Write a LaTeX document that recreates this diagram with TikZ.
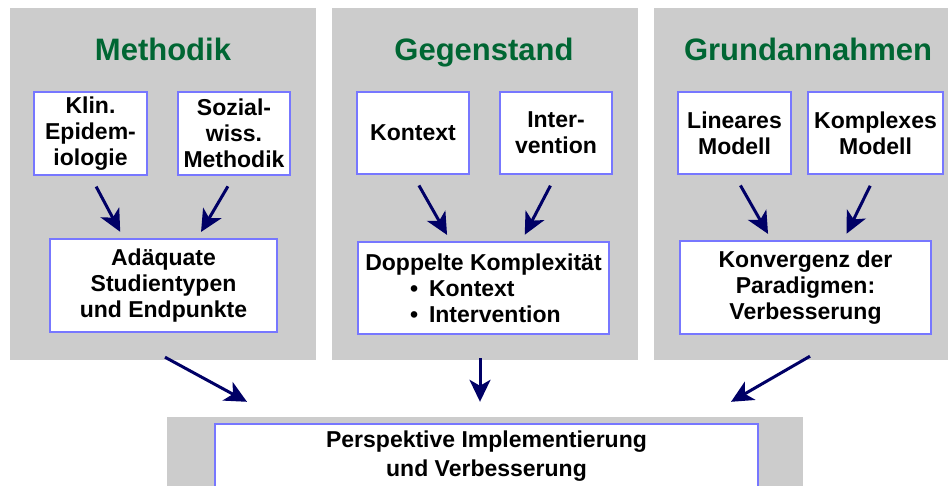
\documentclass[tikz,border=0pt]{standalone}
\usepackage{fontspec}
\setmainfont{Liberation Sans}
\usepackage{xcolor}
\usetikzlibrary{arrows.meta,positioning}

\definecolor{panelgray}{HTML}{CCCCCC}
\definecolor{titlegreen}{HTML}{006633}
\definecolor{boxblue}{HTML}{7777FF}
\definecolor{arrownavy}{HTML}{000066}

\begin{document}
\begin{tikzpicture}[x=1pt, y=-1pt,
	panel/.style = {fill=panelgray, inner sep=0pt},
	headline/.style = {text=titlegreen, font=\bfseries\fontsize{31}{36}\selectfont},
	box/.style = {draw=boxblue, line width=2pt, fill=white, align=center, inner sep=0pt,
		font=\bfseries\fontsize{23}{26}\selectfont},
	arr/.style = {draw=arrownavy, line width=3pt, -{Stealth[length=22pt, width=21pt, inset=6pt]},
		shorten <=12pt, shorten >=7pt}]
	
	\useasboundingbox (0,0) rectangle (948,486);
	
	% the three gray columns with their headlines
	\foreach \p/\x/\w/\tx/\t in {pm/163/306/163/Methodik, pg/485/306/484/Gegenstand, pr/802/296/808/Grundannahmen}
	{
		\node[panel, minimum width=\w pt, minimum height=352pt] (\p) at (\x,184) {};
		\node[headline, anchor=base] (t\p) at (\tx,61) {\t};
	}
	\node[panel, minimum width=636pt, minimum height=73pt] (pb) at (485,453.5) {};
	
	% Methodik
	\node[box, minimum width=113pt, minimum height=83pt] (klin) at (90.5,133.5) {Klin.\\Epidem-\\iologie};
	\node[box, minimum width=112pt, minimum height=83pt] (soz) at (234,133.5) {Sozial-\\wiss.\\Methodik};
	\node[box, minimum width=227pt, minimum height=93pt] (adq) at (163.5,285.5) {Adäquate\\Studientypen\\und Endpunkte};
	
	% Gegenstand
	\node[box, minimum width=112pt, minimum height=82pt] (kon) at (413,133) {Kontext};
	\node[box, minimum width=112pt, minimum height=82pt] (int) at (556,133) {Inter-\\vention};
	\node[box, minimum width=251pt, minimum height=92pt] (dop) at (483.5,288) {Doppelte Komplexität\\
		\makebox[147pt][l]{\textbullet\hspace{11pt}Kontext}\\
		\makebox[147pt][l]{\textbullet\hspace{11pt}Intervention}};
	
	% Grundannahmen
	\node[box, minimum width=113pt, minimum height=82pt] (lin) at (734.5,133) {Lineares\\Modell};
	\node[box, minimum width=135pt, minimum height=82pt] (komp) at (875.5,133) {Komplexes\\Modell};
	\node[box, minimum width=251pt, minimum height=93pt] (konv) at (805.5,287.5) {Konvergenz der\\Paradigmen:\\Verbesserung};
	
	% bottom
	\node[box, minimum width=543pt, minimum height=64pt, font=\bfseries\fontsize{23}{29}\selectfont] (persp) at (486.5,456) {Perspektive Implementierung\\und Verbesserung};
	
	\draw[arr] (klin.south) -- ([xshift=-40pt]adq.north);
	\draw[arr] (soz.south) -- ([xshift=34pt]adq.north);
	\draw[arr] (kon.south) -- ([xshift=-33pt]dop.north);
	\draw[arr] (int.south) -- ([xshift=38pt]dop.north);
	\draw[arr] (lin.south) -- ([xshift=-34pt]konv.north);
	\draw[arr] (komp.south) -- ([xshift=38pt]konv.north);
	
	\draw[arr, shorten <=0pt, shorten >=0pt] ([xshift=2pt,yshift=3pt]pm.south) -- ([xshift=-238pt,yshift=15pt]pb.north);
	\draw[arr, shorten <=0pt, shorten >=0pt] ([xshift=-5pt,yshift=2pt]pg.south) -- ([xshift=-5pt,yshift=15pt]pb.north);
	\draw[arr, shorten <=0pt, shorten >=0pt] ([xshift=8pt,yshift=4pt]pr.south) -- ([xshift=246pt,yshift=15pt]pb.north);
\end{tikzpicture}
\end{document}
